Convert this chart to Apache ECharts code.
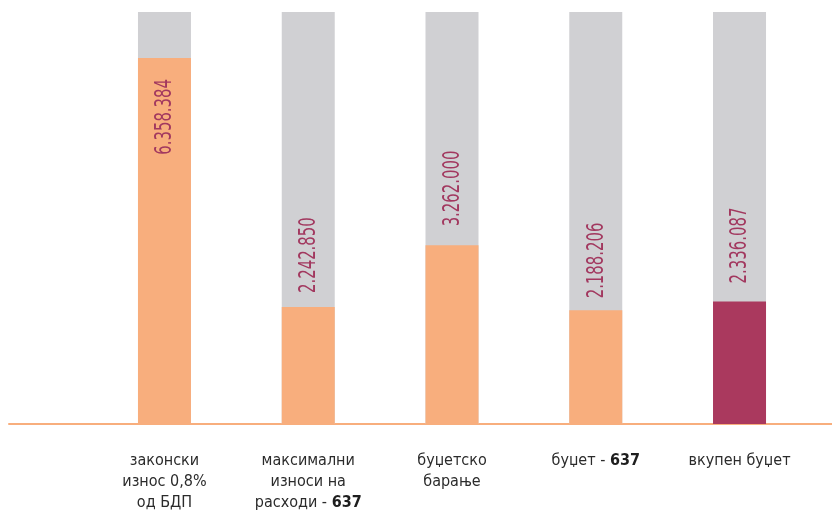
<!DOCTYPE html>
<html>
<head>
<meta charset="utf-8">
<script src="https://cdn.jsdelivr.net/npm/echarts@6/dist/echarts.min.js"></script>
<style>
html,body{margin:0;padding:0;background:#fff;}
#chart{width:832px;height:510px;}
</style>
</head>
<body>
<div id="chart"></div>
<script>
var categories = [
  'законски\nизнос 0,8%\nод БДП',
  'максимални\nизноси на\nрасходи - {b|637}',
  'буџетско\nбарање',
  'буџет - {b|637}',
  'вкупен буџет'
];
var values = [6358384, 2242850, 3262000, 2188206, 2336087];
var valueLabels = ['6.358.384', '2.242.850', '3.262.000', '2.188.206', '2.336.087'];

var FONT = "'DejaVu Sans Condensed', 'DejaVu Sans', sans-serif";
var ORANGE = '#F8AE7D';
var GREY = '#D0D0D3';
var MAGENTA = '#AA395E';
var LABEL = '#A2385F';

var barColors = [ORANGE, ORANGE, ORANGE, ORANGE, MAGENTA];
// label placement relative to bar top: inside (downwards) or above (upwards)
var labelInside = [true, false, false, false, false];
var labelDistance = [21, 14, 19, 12, 18];

var seriesData = values.map(function (v, i) {
  return {value: v, itemStyle: {color: barColors[i]}};
});
var labelData = values.map(function (v, i) { return [i, v]; });

var chart = echarts.init(document.getElementById('chart'));
chart.setOption({
  animation: false,
  backgroundColor: '#fff',
  grid: [
    {left: 92.6, right: 20.6, top: 12, bottom: 86, outerBoundsMode: 'none', containLabel: false},
    {left: 9, right: 0, top: 12, bottom: 86, outerBoundsMode: 'none', containLabel: false}
  ],
  xAxis: [
    {
      type: 'category',
      gridIndex: 0,
      data: categories,
      axisLine: {show: false},
      axisTick: {show: false},
      axisLabel: {
        interval: 0,
        margin: 26,
        color: '#2b2b2b',
        fontFamily: FONT,
        fontSize: 16,
        lineHeight: 21,
        verticalAlign: 'top',
        rich: {
          b: {fontWeight: 'bold', fontFamily: FONT, fontSize: 16, lineHeight: 21, color: '#1e1e1e'}
        }
      }
    },
    {
      type: 'category',
      gridIndex: 1,
      data: [''],
      axisLine: {show: true, lineStyle: {color: ORANGE, width: 2}},
      axisTick: {show: false},
      axisLabel: {show: false}
    }
  ],
  yAxis: [
    {
      type: 'value',
      gridIndex: 0,
      min: 310000,
      max: 7118000,
      startValue: 310000,
      show: false,
      splitLine: {show: false}
    },
    {
      type: 'value',
      gridIndex: 1,
      show: false,
      splitLine: {show: false}
    }
  ],
  series: [
    {
      type: 'bar',
      xAxisIndex: 0,
      yAxisIndex: 0,
      barWidth: 53,
      data: seriesData,
      showBackground: true,
      backgroundStyle: {color: GREY},
      z: 1
    },
    {
      type: 'custom',
      xAxisIndex: 0,
      yAxisIndex: 0,
      data: labelData,
      z: 5,
      silent: true,
      renderItem: function (params, api) {
        var i = params.dataIndex;
        var pt = api.coord([api.value(0), api.value(1)]);
        var inside = labelInside[i];
        var d = labelDistance[i];
        return {
          type: 'text',
          x: pt[0] + 1,
          y: inside ? pt[1] + d : pt[1] - d,
          rotation: Math.PI / 2,
          scaleX: 0.72,
          style: {
            text: valueLabels[i],
            fill: LABEL,
            font: '23px ' + FONT,
            align: inside ? 'right' : 'left',
            verticalAlign: 'middle'
          }
        };
      }
    }
  ]
});
</script>
</body>
</html>
